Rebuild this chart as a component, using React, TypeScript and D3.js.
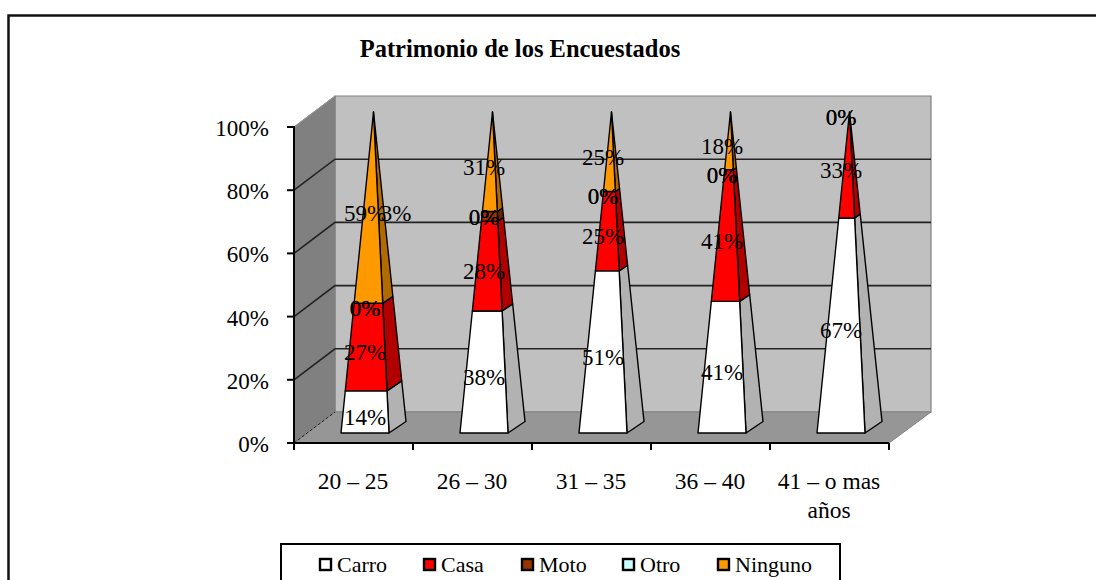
import React from "react";
import * as d3 from "d3";

const title = "Patrimonio de los Encuestados";
const categories = ["20 – 25", "26 – 30", "31 – 35", "36 – 40", "41 – o mas|años"];
const seriesNames = ["Carro", "Casa", "Moto", "Otro", "Ninguno"];
const seriesColors = ["#ffffff", "#ff0000", "#993300", "#ccffff", "#ff9900"];
const sideColors = ["#b2b2b2", "#b20000", "#6b2400", "#8fb2b2", "#b26b00"];
const carro = [13, 38, 51, 41, 67];
const casa = [27, 28, 25, 41, 33];
const moto = [0, 3, 0, 0, 0];
const otro = [0, 0, 0, 0, 0];
const ninguno = [59, 31, 25, 18, 0];
const carroLabels = ["14%", "38%", "51%", "41%", "67%"];
const casaLabels = ["27%", "28%", "25%", "41%", "33%"];
const motoLabels = ["0%", "0%", "0%", "0%", "0%"];
const otroLabels = ["3%", "0%", "0%", "0%", "0%"];
const ningunoLabels = ["59%", "31%", "25%", "18%", ""];
const yTicks = [0, 20, 40, 60, 80, 100];

const FONT = "'Liberation Serif', serif";
const FS = 23;
const W = 1096, H = 580;
const plot = { x0: 294, x1: 889, y0: 443, y1: 127, dx: 41, dy: 31 };
const pyr = { half: 24, inset: 10, sideX: 17, sideY: 11.5, apexY: 112, offset: 11.5 };
const legendBox = { x: 281, y: 544, w: 559, h: 60 };
const legendX = [320, 424, 522, 623, 718];

const x = d3.scaleBand<number>().domain(d3.range(categories.length)).range([plot.x0, plot.x1]);
const y = d3.scaleLinear().domain([0, 100]).range([plot.y0, plot.y1]);

const rows = categories.map((_, i) => ({ i, 0: carro[i], 1: casa[i], 2: moto[i], 3: otro[i], 4: ninguno[i] }));
const stacked = d3.stack<any>().keys([0, 1, 2, 3, 4] as any).offset(d3.stackOffsetExpand)(rows as any);
const allLabels = [carroLabels, casaLabels, motoLabels, otroLabels, ningunoLabels];

const poly = d3.line<[number, number]>().curve(d3.curveLinearClosed);

function faces(i: number, t0: number, t1: number) {
  const cx = x(i)! + x.bandwidth() / 2 + pyr.offset;
  const yF = plot.y0 - pyr.inset;
  const fl: [number, number] = [cx - pyr.half, yF];
  const fr: [number, number] = [cx + pyr.half, yF];
  const br: [number, number] = [cx + pyr.half + pyr.sideX, yF - pyr.sideY];
  const apex: [number, number] = [cx + pyr.sideX / 2, pyr.apexY];
  const at = (p: [number, number], t: number): [number, number] => [p[0] + (apex[0] - p[0]) * t, p[1] + (apex[1] - p[1]) * t];
  return {
    front: [at(fl, t0), at(fr, t0), at(fr, t1), at(fl, t1)] as [number, number][],
    side: [at(fr, t0), at(br, t0), at(br, t1), at(fr, t1)] as [number, number][],
    yAt: (t: number) => at(fl, t)[1],
    cx,
  };
}

export default function App() {
  const { x0, x1, y0, y1, dx, dy } = plot;
  const ticksX = d3.range(categories.length + 1).map((k) => x0 + k * x.step());
  return (
    <svg width={W} height={H} style={{ position: "absolute", left: 0, top: 0, background: "#fff" }} fontFamily={FONT} fontSize={FS}>
      <path d={`M8.5,${H} V15.5 H${W}`} fill="none" stroke="#111" strokeWidth={2.5} />
      <text x={520} y={57} textAnchor="middle" fontWeight="bold" fontSize={24.5}>{title}</text>

      {/* walls */}
      <path d={poly([[x0 + dx, y1 - dy], [x1 + dx + 1, y1 - dy], [x1 + dx + 1, y0 - dy], [x0 + dx, y0 - dy]])!} fill="#c0c0c0" stroke="#808080" strokeWidth={1.2} />
      <path d={poly([[x0, y1], [x0 + dx, y1 - dy], [x0 + dx, y0 - dy], [x0, y0]])!} fill="#808080" stroke="#808080" />
      <path d={poly([[x0, y0], [x0 + dx, y0 - dy], [x1 + dx + 1, y0 - dy], [x1, y0]])!} fill="#969696" stroke="#808080" />
      {yTicks.slice(1, -1).map((t) => (
        <path key={t} d={`M${x0},${y(t)} L${x0 + dx},${y(t) - dy} H${x1 + dx + 1}`} fill="none" stroke="#222" strokeWidth={1.6} />
      ))}
      <path d={`M${x0},${y1} L${x0 + dx},${y1 - dy}`} stroke="#999" strokeWidth={1} />
      <path d={`M${x0},${y0} L${x0 + dx},${y0 - dy}`} stroke="#222" strokeWidth={1} strokeDasharray="3 2" />

      {/* pyramids */}
      {categories.map((_, i) =>
        stacked.map((s, k) => {
          const [t0, t1] = s[i];
          if (t1 - t0 <= 0) return null;
          const f = faces(i, t0, t1);
          return (
            <g key={`${i}-${k}`} stroke="#000" strokeWidth={1.4} strokeLinejoin="round">
              <path d={poly(f.side)!} fill={sideColors[k]} />
              <path d={poly(f.front)!} fill={seriesColors[k]} />
            </g>
          );
        })
      )}

      {/* axes */}
      <path d={`M${x0},${y1 - 1} V${y0} H${x1}`} fill="none" stroke="#000" strokeWidth={2} />
      {yTicks.map((t) => (
        <g key={t}>
          <line x1={x0 - 7} x2={x0} y1={y(t)} y2={y(t)} stroke="#000" strokeWidth={2} />
          <text x={269} y={y(t) + 9} textAnchor="end">{t}%</text>
        </g>
      ))}
      {ticksX.map((tx) => (
        <line key={tx} x1={tx} x2={tx} y1={y0} y2={y0 + 7} stroke="#000" strokeWidth={2} />
      ))}
      {categories.map((c, i) =>
        c.split("|").map((ln, j) => (
          <text key={j} x={x(i)! + x.bandwidth() / 2 - 0.5} y={489 + j * 29} textAnchor="middle" fontSize={23.5}>{ln}</text>
        ))
      )}

      {/* data labels */}
      {categories.map((_, i) =>
        stacked.map((s, k) => {
          const text = allLabels[k][i];
          if (!text) return null;
          const [t0, t1] = s[i];
          const f = faces(i, t0, t1);
          const flat = k === 2 || k === 3;
          const stray = text === "3%";
          const t = stray ? (stacked[4][i][0] + stacked[4][i][1]) / 2 : flat ? t1 : (t0 + t1) / 2;
          return (
            <text key={`${i}-${k}`} x={f.cx + (stray ? 31 : 0)} y={f.yAt(t) + 13} textAnchor="middle">{text}</text>
          );
        })
      )}
      {/* second 0% of the first column sits over the Moto one */}
      <text x={faces(0, 0, 1).cx} y={faces(0, 0, 1).yAt(stacked[3][0][1]) + 13} textAnchor="middle">{motoLabels[0]}</text>

      {/* legend */}
      <rect x={legendBox.x} y={legendBox.y} width={legendBox.w} height={legendBox.h} fill="#fff" stroke="#000" strokeWidth={2} />
      {seriesNames.map((n, k) => (
        <g key={n} fontSize={22}>
          <rect x={legendX[k]} y={559} width={11} height={11} fill={seriesColors[k]} stroke="#000" strokeWidth={2.4} />
          <text x={legendX[k] + 17} y={572}>{n}</text>
        </g>
      ))}
    </svg>
  );
}
